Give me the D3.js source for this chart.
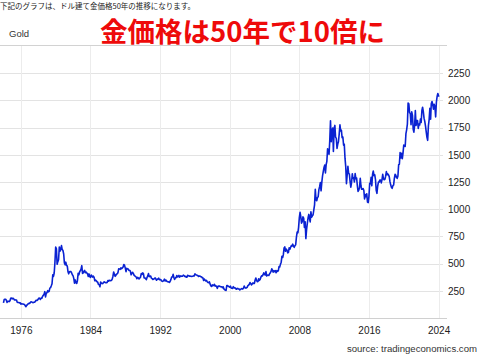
<!DOCTYPE html>
<html>
<head>
<meta charset="utf-8">
<script src="https://cdn.jsdelivr.net/npm/d3@7"></script>
<style>
    html, body { margin: 0; padding: 0; background: #fff; }
    svg { display: block; }
</style>
</head>
<body>
<div id="chart"></div>
<script>
// monthly closes, USD per troy ounce, one row per year starting Jan 1974
const startYear = 1974;
const goldMonthly = [
    [139, 170, 172, 172, 163, 143, 154, 154, 151, 159, 181, 184],
    [176, 182, 178, 167, 167, 166, 166, 144, 142, 143, 139, 140],
    [128, 132, 129, 128, 126, 124, 113, 104, 116, 123, 130, 135],
    [133, 142, 149, 147, 143, 141, 145, 145, 154, 162, 161, 165],
    [175, 183, 181, 170, 184, 183, 200, 208, 218, 242, 194, 226],
    [233, 251, 240, 245, 275, 279, 296, 315, 397, 382, 416, 512],
    [653, 637, 494, 518, 535, 653, 614, 631, 666, 629, 620, 590],
    [506, 489, 513, 482, 479, 426, 406, 425, 428, 427, 414, 397],
    [387, 362, 320, 350, 325, 317, 342, 411, 397, 423, 436, 448],
    [481, 409, 414, 429, 437, 416, 422, 414, 405, 382, 405, 382],
    [373, 395, 388, 376, 384, 373, 342, 348, 342, 333, 329, 309],
    [306, 287, 330, 321, 316, 317, 327, 333, 326, 325, 325, 327],
    [345, 339, 346, 345, 343, 346, 357, 384, 423, 401, 383, 391],
    [405, 406, 419, 453, 451, 447, 462, 453, 460, 468, 492, 484],
    [458, 426, 457, 451, 451, 437, 437, 431, 397, 412, 420, 410],
    [394, 387, 383, 377, 361, 373, 368, 359, 367, 375, 408, 401],
    [415, 407, 368, 368, 363, 352, 372, 387, 408, 380, 384, 386],
    [366, 362, 355, 357, 361, 368, 362, 347, 354, 358, 366, 353],
    [354, 353, 341, 337, 338, 343, 357, 340, 349, 339, 334, 333],
    [330, 327, 338, 355, 377, 378, 401, 372, 355, 369, 371, 391],
    [377, 381, 391, 376, 387, 385, 383, 385, 394, 389, 383, 383],
    [375, 376, 392, 389, 385, 387, 383, 382, 384, 383, 387, 387],
    [405, 400, 396, 392, 391, 382, 385, 386, 379, 379, 371, 369],
    [345, 358, 348, 340, 345, 334, 326, 325, 332, 311, 296, 290],
    [304, 297, 301, 310, 293, 296, 288, 273, 294, 292, 294, 288],
    [287, 287, 279, 286, 268, 261, 255, 254, 299, 299, 291, 290],
    [283, 293, 276, 273, 272, 288, 277, 278, 273, 264, 270, 272],
    [266, 267, 258, 263, 268, 270, 266, 273, 293, 279, 275, 277],
    [282, 297, 301, 309, 326, 318, 304, 312, 323, 317, 318, 347],
    [367, 347, 334, 336, 361, 346, 354, 375, 388, 386, 398, 416],
    [399, 396, 427, 386, 393, 394, 391, 407, 416, 428, 453, 438],
    [422, 435, 427, 435, 417, 435, 429, 433, 473, 470, 495, 513],
    [568, 556, 582, 644, 653, 613, 633, 623, 599, 604, 646, 632],
    [650, 665, 661, 679, 659, 650, 665, 673, 743, 789, 783, 834],
    [923, 971, 933, 871, 885, 930, 918, 833, 884, 730, 814, 869],
    [919, 952, 916, 883, 975, 926, 939, 949, 996, 1040, 1182, 1087],
    [1078, 1109, 1113, 1180, 1207, 1244, 1169, 1246, 1307, 1346, 1383, 1405],
    [1333, 1411, 1439, 1556, 1536, 1505, 1628, 1813, 1620, 1722, 1746, 1531],
    [1744, 1770, 1662, 1651, 1558, 1598, 1622, 1692, 1776, 1719, 1726, 1657],
    [1664, 1588, 1598, 1469, 1394, 1234, 1314, 1395, 1327, 1323, 1253, 1202],
    [1244, 1326, 1284, 1288, 1250, 1327, 1281, 1286, 1216, 1164, 1175, 1199],
    [1284, 1213, 1183, 1183, 1190, 1172, 1095, 1134, 1115, 1142, 1065, 1061],
    [1118, 1238, 1233, 1293, 1215, 1321, 1351, 1309, 1316, 1273, 1173, 1146],
    [1211, 1249, 1249, 1268, 1268, 1242, 1269, 1321, 1280, 1271, 1275, 1303],
    [1345, 1318, 1325, 1315, 1299, 1253, 1224, 1201, 1192, 1215, 1222, 1282],
    [1321, 1313, 1292, 1284, 1305, 1409, 1413, 1520, 1472, 1513, 1464, 1517],
    [1589, 1585, 1577, 1694, 1730, 1781, 1975, 1968, 1886, 1879, 1777, 1895],
    [1863, 1734, 1708, 1769, 1906, 1770, 1814, 1814, 1743, 1783, 1774, 1829],
    [1797, 1909, 1937, 1897, 1837, 1807, 1766, 1711, 1661, 1633, 1768, 1824],
    [1928, 1827, 1969, 1990, 1962, 1919, 1965, 1940, 1849, 1983, 2036, 2063],
    [2040, 2044]
];
const xTickYears = [1976, 1984, 1992, 2000, 2008, 2016, 2024];
const yTickValues = [250, 500, 750, 1000, 1250, 1500, 1750, 2000, 2250];

const topNote = '下記のグラフは、ドル建て金価格50年の推移になります。';
const seriesName = 'Gold';
const headline = '金価格は50年で10倍に';
const sourceText = 'source: tradingeconomics.com';

const width = 480, height = 362;
const plotLeft = 0, plotRight = 447, plotTop = 46, plotBottom = 318;

const data = [];
goldMonthly.forEach((row, i) => {
    row.forEach((v, m) => {
        data.push({ date: new Date(startYear + i, m, 1), value: v });
    });
});

const svg = d3.select('#chart')
    .append('svg')
    .attr('width', width)
    .attr('height', height);

const x = d3.scaleTime()
    .domain([new Date(1973, 7, 8), new Date(2024, 11, 20)])
    .range([plotLeft, plotRight]);

const y = d3.scaleLinear()
    .domain([0, 2500])
    .range([plotBottom, plotTop]);

// horizontal grid
svg.append('g')
    .selectAll('line')
    .data(yTickValues)
    .enter().append('line')
    .attr('x1', plotLeft)
    .attr('x2', 443)
    .attr('y1', d => Math.round(y(d)) + 0.5)
    .attr('y2', d => Math.round(y(d)) + 0.5)
    .attr('stroke', '#e3e3e3')
    .attr('stroke-width', 1);

// vertical grid
svg.append('g')
    .selectAll('line')
    .data(xTickYears)
    .enter().append('line')
    .attr('x1', d => Math.round(x(new Date(d, 0, 1))) + 0.5)
    .attr('x2', d => Math.round(x(new Date(d, 0, 1))) + 0.5)
    .attr('y1', plotTop)
    .attr('y2', plotBottom)
    .attr('stroke', '#ececec')
    .attr('stroke-width', 1);

// top rule and bottom axis line
svg.append('line')
    .attr('x1', plotLeft).attr('x2', plotRight)
    .attr('y1', plotTop - 0.5).attr('y2', plotTop - 0.5)
    .attr('stroke', '#d2d2d2');

const xAxis = d3.axisBottom(x)
    .tickValues(xTickYears.map(d => new Date(d, 0, 1)))
    .tickFormat(d3.timeFormat('%Y'))
    .tickSize(0)
    .tickPadding(9);

const gx = svg.append('g')
    .attr('transform', `translate(0,${plotBottom})`)
    .call(xAxis);
gx.select('.domain')
    .attr('d', `M${plotLeft},0.5H${plotRight}`)
    .attr('stroke', '#d0d0d0');
gx.selectAll('text')
    .attr('font-family', 'Liberation Sans, Arial, sans-serif')
    .attr('font-size', 10)
    .attr('fill', '#222');

const yAxis = d3.axisRight(y)
    .tickValues(yTickValues)
    .tickFormat(d3.format('d'))
    .tickSize(0)
    .tickPadding(0);

const gy = svg.append('g')
    .attr('transform', 'translate(448,0)')
    .call(yAxis);
gy.select('.domain').remove();
gy.selectAll('text')
    .attr('font-family', 'Liberation Sans, Arial, sans-serif')
    .attr('font-size', 10)
    .attr('fill', '#222');

// price line
const line = d3.line()
    .x(d => x(d.date))
    .y(d => y(d.value));

svg.append('path')
    .datum(data)
    .attr('fill', 'none')
    .attr('stroke', '#0a22d2')
    .attr('stroke-width', 1.6)
    .attr('stroke-linejoin', 'round')
    .attr('d', line);

// texts
svg.append('text')
    .attr('x', 0)
    .attr('y', 9)
    .attr('font-family', 'Noto Sans CJK JP, sans-serif')
    .attr('font-size', 7.5)
    .attr('fill', '#222')
    .text(topNote);

svg.append('text')
    .attr('x', 9)
    .attr('y', 37)
    .attr('font-family', 'Liberation Sans, Arial, sans-serif')
    .attr('font-size', 9.5)
    .attr('fill', '#333')
    .text(seriesName);

svg.append('text')
    .attr('x', 100)
    .attr('y', 42)
    .attr('font-family', 'Noto Sans CJK JP, sans-serif')
    .attr('font-weight', 'bold')
    .attr('font-size', 27.5)
    .attr('fill', '#ee0a0a')
    .text(headline);

svg.append('text')
    .attr('x', 477)
    .attr('y', 352)
    .attr('text-anchor', 'end')
    .attr('font-family', 'Liberation Sans, Arial, sans-serif')
    .attr('font-size', 9.6)
    .attr('fill', '#333')
    .text(sourceText);
</script>
</body>
</html>
